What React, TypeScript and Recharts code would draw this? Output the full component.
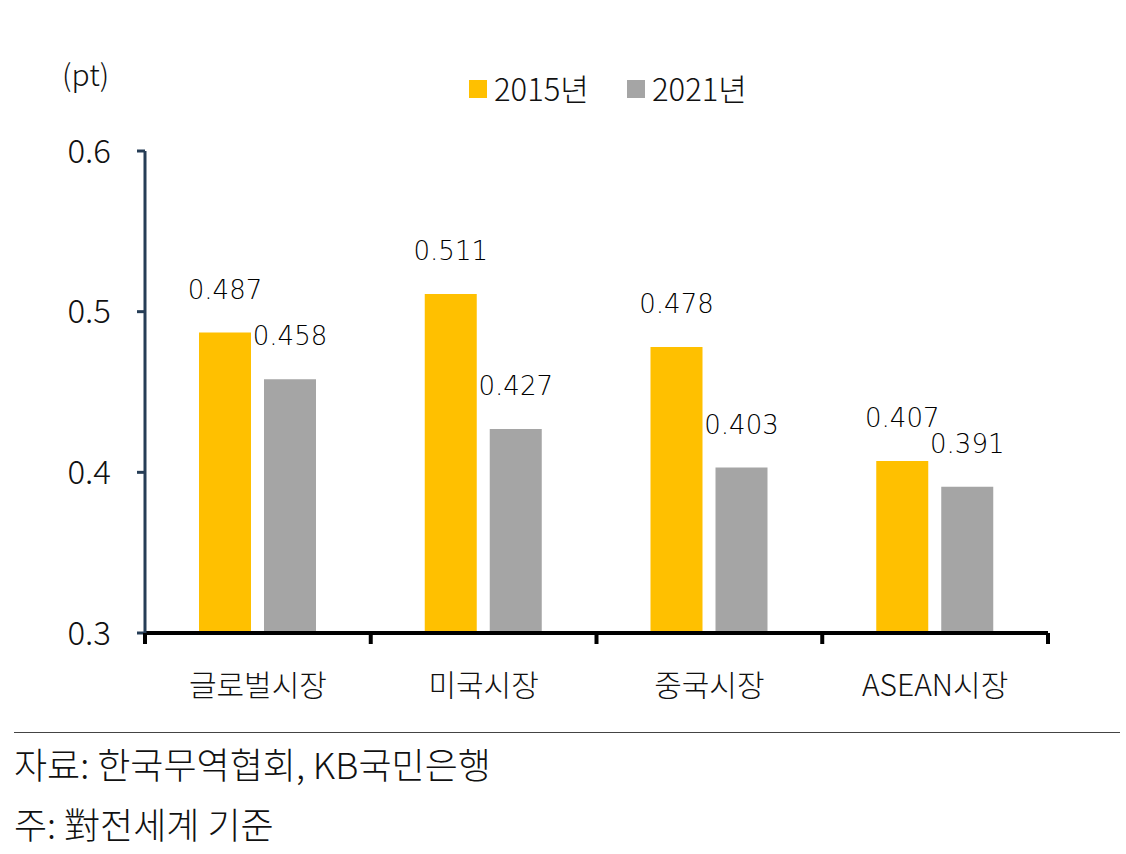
import { BarChart, Bar, XAxis, YAxis, LabelList } from 'recharts'

const categories = ['글로벌시장', '미국시장', '중국시장', 'ASEAN시장']
const values2015 = [0.487, 0.511, 0.478, 0.407]
const values2021 = [0.458, 0.427, 0.403, 0.391]
const yTicks = [0.3, 0.4, 0.5, 0.6]

const seriesNames = ['2015년', '2021년']
const COLOR_2015 = '#FFC000'
const COLOR_2021 = '#A5A5A5'
const AXIS_NAVY = '#263D56'
const KR_FONT = '"Noto Sans CJK KR", "Noto Sans", sans-serif'
const KR_WEIGHT = 300

const CHART_W = 1126
const CHART_H = 720
const MARGIN = { top: 151, right: 78, left: 65, bottom: 27 }
const Y_AXIS_W = 80

const data = categories.map((name, i) => ({
    name,
    v2015: values2015[i],
    v2021: values2021[i],
}))

function CategoryTick(props: any) {
    const { x, y, payload, index } = props
    const plotW = CHART_W - MARGIN.left - MARGIN.right - Y_AXIS_W
    const half = payload?.offset || plotW / categories.length / 2
    const last = index === categories.length - 1
    return (
        <g>
            <line x1={x - half} x2={x - half} y1={y} y2={y + 11} stroke="#000" strokeWidth={4} />
            {last && <line x1={x + half} x2={x + half} y1={y} y2={y + 11} stroke="#000" strokeWidth={4} />}
            <text
                x={x}
                y={y + 63}
                textAnchor="middle"
                fill="#111"
                style={{ fontFamily: KR_FONT, fontSize: 30, fontWeight: KR_WEIGHT }}
            >
                {payload.value}
            </text>
        </g>
    )
}

const labelStyle = { fill: '#000', fontSize: 26, fontFamily: '"DejaVu Sans", sans-serif' }

export default function App() {
    return (
        <div
            style={{
                position: 'absolute',
                left: 0,
                top: 0,
                width: 1126,
                height: 854,
                background: '#fff',
                fontFamily: KR_FONT,
                fontWeight: KR_WEIGHT,
                color: '#111',
            }}
        >
            <div style={{ position: 'absolute', left: 62, top: 55, fontSize: 30, lineHeight: '36px' }}>(pt)</div>

            {/* legend */}
            <div style={{ position: 'absolute', left: 469, top: 80, width: 18, height: 18, background: COLOR_2015 }} />
            <div style={{ position: 'absolute', left: 494, top: 69, fontSize: 31, lineHeight: '38px' }}>{seriesNames[0]}</div>
            <div style={{ position: 'absolute', left: 627, top: 80, width: 18, height: 18, background: COLOR_2021 }} />
            <div style={{ position: 'absolute', left: 652, top: 69, fontSize: 31, lineHeight: '38px' }}>{seriesNames[1]}</div>

            <div style={{ position: 'absolute', left: 0, top: 0 }}>
                <BarChart
                    width={CHART_W}
                    height={CHART_H}
                    data={data}
                    margin={MARGIN}
                    barSize={52}
                    barGap={13}
                >
                    <XAxis
                        dataKey="name"
                        axisLine={{ stroke: '#000', strokeWidth: 4 }}
                        tickLine={false}
                        tickSize={0}
                        tickMargin={0}
                        height={60}
                        interval={0}
                        tick={<CategoryTick />}
                    />
                    <YAxis
                        width={Y_AXIS_W}
                        domain={[0.3, 0.6]}
                        ticks={yTicks}
                        allowDataOverflow
                        axisLine={{ stroke: AXIS_NAVY, strokeWidth: 3 }}
                        tickLine={{ stroke: AXIS_NAVY, strokeWidth: 3 }}
                        tickSize={8}
                        tickMargin={26}
                        tickFormatter={(v: number) => v.toFixed(1)}
                        tick={{ fill: '#111', fontSize: 33, fontFamily: KR_FONT, fontWeight: KR_WEIGHT }}
                    />
                    <Bar dataKey="v2015" name={seriesNames[0]} fill={COLOR_2015} isAnimationActive={false}>
                        <LabelList
                            dataKey="v2015"
                            position="top"
                            offset={34}
                            formatter={(v: any) => Number(v).toFixed(3)}
                            style={labelStyle}
                        />
                    </Bar>
                    <Bar dataKey="v2021" name={seriesNames[1]} fill={COLOR_2021} isAnimationActive={false}>
                        <LabelList
                            dataKey="v2021"
                            position="top"
                            offset={34}
                            formatter={(v: any) => Number(v).toFixed(3)}
                            style={labelStyle}
                        />
                    </Bar>
                </BarChart>
            </div>

            <div style={{ position: 'absolute', left: 14, top: 732, width: 1106, height: 1, background: '#444' }} />
            <div style={{ position: 'absolute', left: 14, top: 741, fontSize: 36, lineHeight: '44px' }}>
                자료: 한국무역협회, KB국민은행
            </div>
            <div style={{ position: 'absolute', left: 14, top: 801, fontSize: 36, lineHeight: '44px' }}>
                주: 對전세계 기준
            </div>
        </div>
    )
}
